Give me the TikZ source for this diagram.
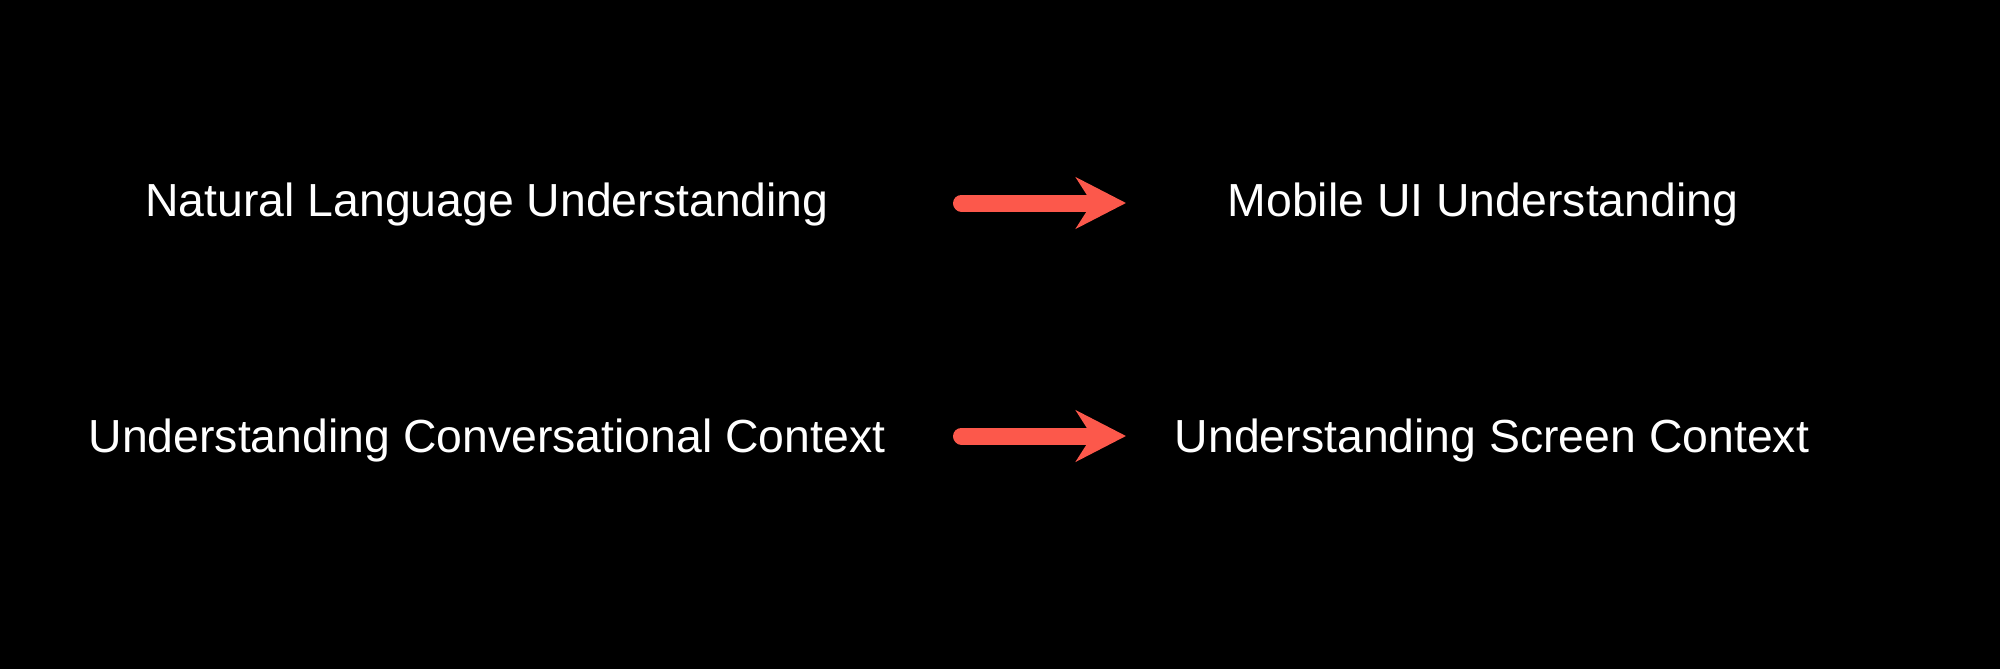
\documentclass[tikz,border=0pt]{standalone}
\usepackage{fontspec}
\setmainfont{Liberation Sans}
\usepackage{tikz}
\usetikzlibrary{arrows.meta}
\usetikzlibrary{calc}

\definecolor{arrowred}{RGB}{252,88,75}

\begin{document}
\begin{tikzpicture}[
        text_style/.style={text=white,inner sep=0pt,font=\fontsize{13.2}{16}\selectfont},
        arrow_style/.style={draw=arrowred, line width=0.17cm, line cap=round,
            -{Stealth[length=0.5cm, width=0.51cm, inset=0.16cm]}}]

        \fill[black] (0,0) rectangle (20,6.69);

        \node [text_style](nlu) at (4.87,4.64) {Natural Language Understanding};

        \node [text_style](mui) at (14.83,4.64) {Mobile UI Understanding};

        \node [text_style](ucc) at (4.87,2.28) {Understanding Conversational Context};

        \node [text_style](usc) at (14.92,2.28) {Understanding Screen Context};

        \coordinate (a1s) at (9.615,4.66);
        \coordinate (a1e) at (11.26,4.66);
        \coordinate (a2s) at (9.615,2.33);
        \coordinate (a2e) at (11.26,2.33);

        \draw [arrow_style] (a1s) -- (a1e);

        \draw [arrow_style] (a2s) -- (a2e);

        \end{tikzpicture}
\end{document}
